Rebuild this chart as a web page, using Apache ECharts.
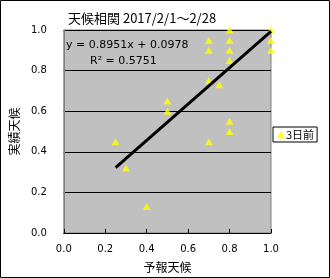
<!DOCTYPE html>
<html><head><meta charset="utf-8">
<script src="https://cdn.jsdelivr.net/npm/echarts@6/dist/echarts.min.js"></script>
<style>html,body{margin:0;padding:0;background:#fff}#c{width:330px;height:278px}</style>
</head><body><div id="c"></div>
<script>
const forecastX = [0.7,0.7,0.7,0.7, 0.8,0.8,0.8,0.8,0.8,0.8, 1.0,1.0,1.0, 0.75, 0.5,0.5, 0.25, 0.3, 0.4];
const actualY   = [0.95,0.90,0.75,0.45, 1.0,0.95,0.90,0.85,0.55,0.50, 1.0,0.95,0.90, 0.73, 0.65,0.60, 0.45, 0.32, 0.13];
const trendSlope = 0.8951, trendIntercept = 0.0978, trendR2 = 0.5751;
const trendRange = [0.25, 1.0];
const axisTicks = [0, 0.2, 0.4, 0.6, 0.8, 1.0];
const seriesName = '3日前';
const titleText = '天候相関 2017/2/1～2/28';
const xName = '予報天候', yName = '実績天候';

const font = '"Noto Sans CJK JP", "DejaVu Sans", sans-serif';
const chart = echarts.init(document.getElementById('c'));
const pts = forecastX.map((x,i)=>[x, actualY[i]]);
const trend = trendRange.map(x=>[x, trendSlope*x + trendIntercept]);
chart.setOption({
  animation:false,
  backgroundColor:'#fff',
  title:{text:titleText, left:63, top:7, textStyle:{fontSize:13, fontWeight:'normal', color:'#000', fontFamily:font}},
  grid:{left:58, top:30, width:213, height:203, show:true, backgroundColor:'#c0c0c0', borderColor:'#808080', borderWidth:1},
  legend:{left:273, top:127, width:52, orient:'vertical', borderColor:'#000', borderWidth:1, padding:[2,3,2,4], itemWidth:8, itemHeight:8, itemGap:0,
    textStyle:{fontSize:11, color:'#000', fontFamily:font, padding:[0,0,0,-4]}, data:[{name:seriesName, icon:'triangle'}]},
  xAxis:{type:'value', min:0, max:1, interval:0.2, name:xName, nameLocation:'middle', nameGap:28,
    nameTextStyle:{fontSize:12, color:'#000', fontFamily:font},
    axisLine:{lineStyle:{color:'#000'}}, axisTick:{inside:true, length:4, lineStyle:{color:'#000'}},
    axisLabel:{fontSize:10, color:'#000', margin:11, formatter:v=>v.toFixed(1), fontFamily:'"DejaVu Sans", sans-serif'},
    splitLine:{show:false}},
  yAxis:{type:'value', min:0, max:1, interval:0.2, name:yName, nameLocation:'middle', nameGap:38, nameRotate:90,
    nameTextStyle:{fontSize:12, color:'#000', fontFamily:font},
    axisLine:{show:true, lineStyle:{color:'#808080'}}, axisTick:{show:false},
    axisLabel:{fontSize:10, color:'#000', margin:17, formatter:v=>v.toFixed(1), fontFamily:'"DejaVu Sans", sans-serif'},
    splitLine:{lineStyle:{color:'#000', width:1}}},
  series:[
    {name:seriesName, type:'scatter', data:pts, symbol:'triangle', symbolSize:[8,7], itemStyle:{color:'#ffff00'}, z:3},
    {name:'trend', type:'line', data:trend, symbol:'none', lineStyle:{color:'#000', width:3}, z:4, silent:true}
  ],
  graphic:[
    {type:'rect', shape:{x:0.5,y:0.5,width:329,height:277}, style:{fill:null, stroke:'#000', lineWidth:1}, silent:true},
    {type:'text', left:66, top:40, style:{text:'y = 0.8951x + 0.0978', fontSize:11, fill:'#000', fontFamily:'"DejaVu Sans", sans-serif'}},
    {type:'text', left:90, top:56, style:{text:'R² = ' + trendR2.toFixed(4), fontSize:11, fill:'#000', fontFamily:'"DejaVu Sans", sans-serif'}}
  ]
});
</script></body></html>
